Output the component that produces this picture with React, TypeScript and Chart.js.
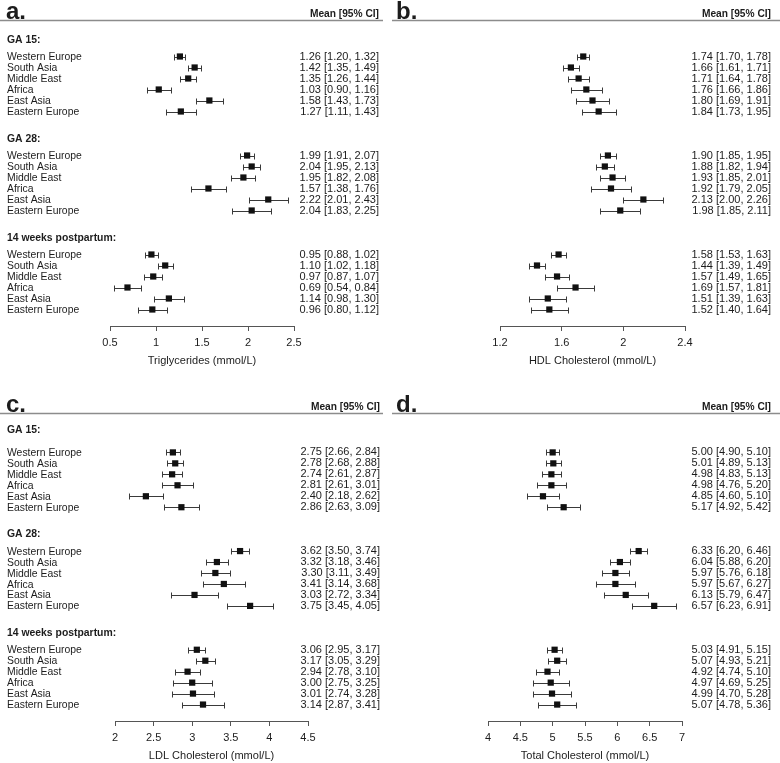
import React, { useEffect, useRef } from 'react';
import { Chart, registerables } from 'chart.js';

Chart.register(...registerables);

const FONT = '"Liberation Sans", Arial, Helvetica, sans-serif';
Chart.defaults.font.family = FONT;

const regions = ['Western Europe', 'South Asia', 'Middle East', 'Africa', 'East Asia', 'Eastern Europe'];
const groupTitles = ['GA 15:', 'GA 28:', '14 weeks postpartum:'];

// Triglycerides: GA 15, GA 28, 14 weeks postpartum (6 regions each)
const tgMean = [1.26, 1.42, 1.35, 1.03, 1.58, 1.27, 1.99, 2.04, 1.95, 1.57, 2.22, 2.04, 0.95, 1.10, 0.97, 0.69, 1.14, 0.96];
const tgLow = [1.20, 1.35, 1.26, 0.90, 1.43, 1.11, 1.91, 1.95, 1.82, 1.38, 2.01, 1.83, 0.88, 1.02, 0.87, 0.54, 0.98, 0.80];
const tgHigh = [1.32, 1.49, 1.44, 1.16, 1.73, 1.43, 2.07, 2.13, 2.08, 1.76, 2.43, 2.25, 1.02, 1.18, 1.07, 0.84, 1.30, 1.12];
const tgTicks = [0.5, 1, 1.5, 2, 2.5];

// HDL cholesterol
const hdlMean = [1.74, 1.66, 1.71, 1.76, 1.80, 1.84, 1.90, 1.88, 1.93, 1.92, 2.13, 1.98, 1.58, 1.44, 1.57, 1.69, 1.51, 1.52];
const hdlLow = [1.70, 1.61, 1.64, 1.66, 1.69, 1.73, 1.85, 1.82, 1.85, 1.79, 2.00, 1.85, 1.53, 1.39, 1.49, 1.57, 1.39, 1.40];
const hdlHigh = [1.78, 1.71, 1.78, 1.86, 1.91, 1.95, 1.95, 1.94, 2.01, 2.05, 2.26, 2.11, 1.63, 1.49, 1.65, 1.81, 1.63, 1.64];
const hdlTicks = [1.2, 1.6, 2, 2.4];

// LDL cholesterol
const ldlMean = [2.75, 2.78, 2.74, 2.81, 2.40, 2.86, 3.62, 3.32, 3.30, 3.41, 3.03, 3.75, 3.06, 3.17, 2.94, 3.00, 3.01, 3.14];
const ldlLow = [2.66, 2.68, 2.61, 2.61, 2.18, 2.63, 3.50, 3.18, 3.11, 3.14, 2.72, 3.45, 2.95, 3.05, 2.78, 2.75, 2.74, 2.87];
const ldlHigh = [2.84, 2.88, 2.87, 3.01, 2.62, 3.09, 3.74, 3.46, 3.49, 3.68, 3.34, 4.05, 3.17, 3.29, 3.10, 3.25, 3.28, 3.41];
const ldlTicks = [2, 2.5, 3, 3.5, 4, 4.5];

// Total cholesterol
const tcMean = [5.00, 5.01, 4.98, 4.98, 4.85, 5.17, 6.33, 6.04, 5.97, 5.97, 6.13, 6.57, 5.03, 5.07, 4.92, 4.97, 4.99, 5.07];
const tcLow = [4.90, 4.89, 4.83, 4.76, 4.60, 4.92, 6.20, 5.88, 5.76, 5.67, 5.79, 6.23, 4.91, 4.93, 4.74, 4.69, 4.70, 4.78];
const tcHigh = [5.10, 5.13, 5.13, 5.20, 5.10, 5.42, 6.46, 6.20, 6.18, 6.27, 6.47, 6.91, 5.15, 5.21, 5.10, 5.25, 5.28, 5.36];
const tcTicks = [4, 4.5, 5, 5.5, 6, 6.5, 7];

const TEXT = '#1c1c1c';

type PanelProps = {
  letter: string;
  mean: number[];
  low: number[];
  high: number[];
  ticks: number[];
  title: string;
  showLabels: boolean;
  padLeft: number;
  padRight: number;
  padTop: number;
  height: number;
  valueX: number;
  lineX0: number;
  lineX1: number;
  headY: number;
  firstHeadSlot: number;
};

const slotOf = (i: number) => Math.floor(i / 6) * 9 + (i % 6);

function Panel(p: PanelProps) {
  const ref = useRef<HTMLCanvasElement | null>(null);
  useEffect(() => {
    if (!ref.current) return;
    const fmt = (v: number) => v.toFixed(2);
    const plugin = {
      id: 'forest' + p.letter,
      beforeDatasetsDraw(chart: any) {
        const { ctx } = chart;
        const x = chart.scales.x;
        const y = chart.scales.y;
        ctx.save();
        ctx.strokeStyle = '#3a3a3a';
        ctx.lineWidth = 1;
        for (let i = 0; i < p.mean.length; i++) {
          const py = Math.round(y.getPixelForValue(slotOf(i))) + 0.5;
          const x1 = Math.round(x.getPixelForValue(p.low[i])) + 0.5;
          const x2 = Math.round(x.getPixelForValue(p.high[i])) + 0.5;
          ctx.beginPath();
          ctx.moveTo(x1, py);
          ctx.lineTo(x2, py);
          ctx.moveTo(x1, py - 3);
          ctx.lineTo(x1, py + 3);
          ctx.moveTo(x2, py - 3);
          ctx.lineTo(x2, py + 3);
          ctx.stroke();
        }
        ctx.restore();
      },
      afterDraw(chart: any) {
        const { ctx } = chart;
        const y = chart.scales.y;
        ctx.save();
        // header
        ctx.fillStyle = TEXT;
        ctx.textBaseline = 'alphabetic';
        ctx.textAlign = 'left';
        ctx.font = `bold 24px ${FONT}`;
        ctx.fillText(p.letter, 6, p.headY - 2);
        ctx.textAlign = 'right';
        ctx.font = `bold 10.2px ${FONT}`;
        ctx.fillText('Mean [95% CI]', p.valueX, p.headY - 3.5);
        ctx.strokeStyle = '#8c8c8c';
        ctx.lineWidth = 1.6;
        ctx.beginPath();
        ctx.moveTo(p.lineX0, p.headY);
        ctx.lineTo(p.lineX1, p.headY);
        ctx.stroke();
        // groups and rows
        ctx.textBaseline = 'middle';
        if (p.showLabels) {
          for (let g = 0; g < groupTitles.length; g++) {
            ctx.textAlign = 'left';
            ctx.font = `bold 10.4px ${FONT}`;
            const s = g === 0 ? p.firstHeadSlot : g * 9 - 1.5;
            ctx.fillText(groupTitles[g], 7, y.getPixelForValue(s));
          }
        }
        for (let i = 0; i < p.mean.length; i++) {
          const py = y.getPixelForValue(slotOf(i));
          if (p.showLabels) {
            ctx.font = `10.4px ${FONT}`;
            ctx.textAlign = 'left';
            ctx.fillText(regions[i % 6], 7, py + 0.7);
          }
          ctx.font = `11px ${FONT}`;
          ctx.textAlign = 'right';
          ctx.fillText(`${fmt(p.mean[i])} [${fmt(p.low[i])}, ${fmt(p.high[i])}]`, p.valueX, py);
        }
        ctx.restore();
      },
    };
    const chart = new Chart(ref.current, {
      type: 'scatter',
      data: {
        datasets: [
          {
            data: p.mean.map((m, i) => ({ x: m, y: slotOf(i) })),
            pointStyle: 'rect',
            pointRadius: 4.4,
            pointHoverRadius: 4.4,
            backgroundColor: '#111',
            borderColor: '#111',
            borderWidth: 0,
          },
        ],
      },
      options: {
        animation: false,
        responsive: false,
        devicePixelRatio: 1,
        layout: { padding: { left: p.padLeft, right: p.padRight, top: p.padTop, bottom: p.height - 326 - 41.4 } },
        plugins: { legend: { display: false }, tooltip: { enabled: false } },
        scales: {
          x: {
            type: 'linear',
            min: p.ticks[0],
            max: p.ticks[p.ticks.length - 1],
            afterBuildTicks: (scale: any) => {
              scale.ticks = p.ticks.map((v) => ({ value: v }));
            },
            ticks: {
              color: TEXT,
              font: { size: 11, family: FONT },
              padding: 5,
              maxRotation: 0,
              autoSkip: false,
              callback: (v: any) => String(v),
            },
            grid: { display: true, drawOnChartArea: false, drawTicks: true, tickLength: 5, color: '#555', lineWidth: 1 },
            border: { display: true, color: '#555', width: 1 },
            title: { display: true, text: p.title, color: TEXT, font: { size: 11, family: FONT }, padding: { top: 0, bottom: 0 } },
          },
          y: {
            type: 'linear',
            reverse: true,
            min: -2.5,
            max: 24.5,
            display: false,
          },
        },
      },
      plugins: [plugin],
    });
    return () => chart.destroy();
  }, []);
  return <canvas ref={ref} width={390} height={p.height} style={{ display: 'block', width: 390, height: p.height }} />;
}

export default function App() {
  return (
    <div style={{ position: 'absolute', left: 0, top: 0, width: 780, height: 763, overflow: 'hidden', background: '#fff' }}>
      <div style={{ position: 'absolute', left: 0, top: 0 }}>
        <Panel letter="a." mean={tgMean} low={tgLow} high={tgHigh} ticks={tgTicks} title="Triglycerides (mmol/L)" showLabels={true} padLeft={110} padRight={96} padTop={29} height={395} valueX={379} lineX0={0} lineX1={383} headY={20.5} firstHeadSlot={-1.5} />
      </div>
      <div style={{ position: 'absolute', left: 390, top: 0 }}>
        <Panel letter="b." mean={hdlMean} low={hdlLow} high={hdlHigh} ticks={hdlTicks} title="HDL Cholesterol (mmol/L)" showLabels={false} padLeft={110} padRight={95} padTop={29} height={395} valueX={381} lineX0={2} lineX1={390} headY={20.5} firstHeadSlot={-1.5} />
      </div>
      <div style={{ position: 'absolute', left: 0, top: 395 }}>
        <Panel letter="c." mean={ldlMean} low={ldlLow} high={ldlHigh} ticks={ldlTicks} title="LDL Cholesterol (mmol/L)" showLabels={true} padLeft={115} padRight={82} padTop={30} height={368} valueX={380} lineX0={0} lineX1={383} headY={18.5} firstHeadSlot={-2.05} />
      </div>
      <div style={{ position: 'absolute', left: 390, top: 395 }}>
        <Panel letter="d." mean={tcMean} low={tcLow} high={tcHigh} ticks={tcTicks} title="Total Cholesterol (mmol/L)" showLabels={false} padLeft={98} padRight={98} padTop={30} height={368} valueX={381} lineX0={2} lineX1={390} headY={18.5} firstHeadSlot={-2.05} />
      </div>
    </div>
  );
}
